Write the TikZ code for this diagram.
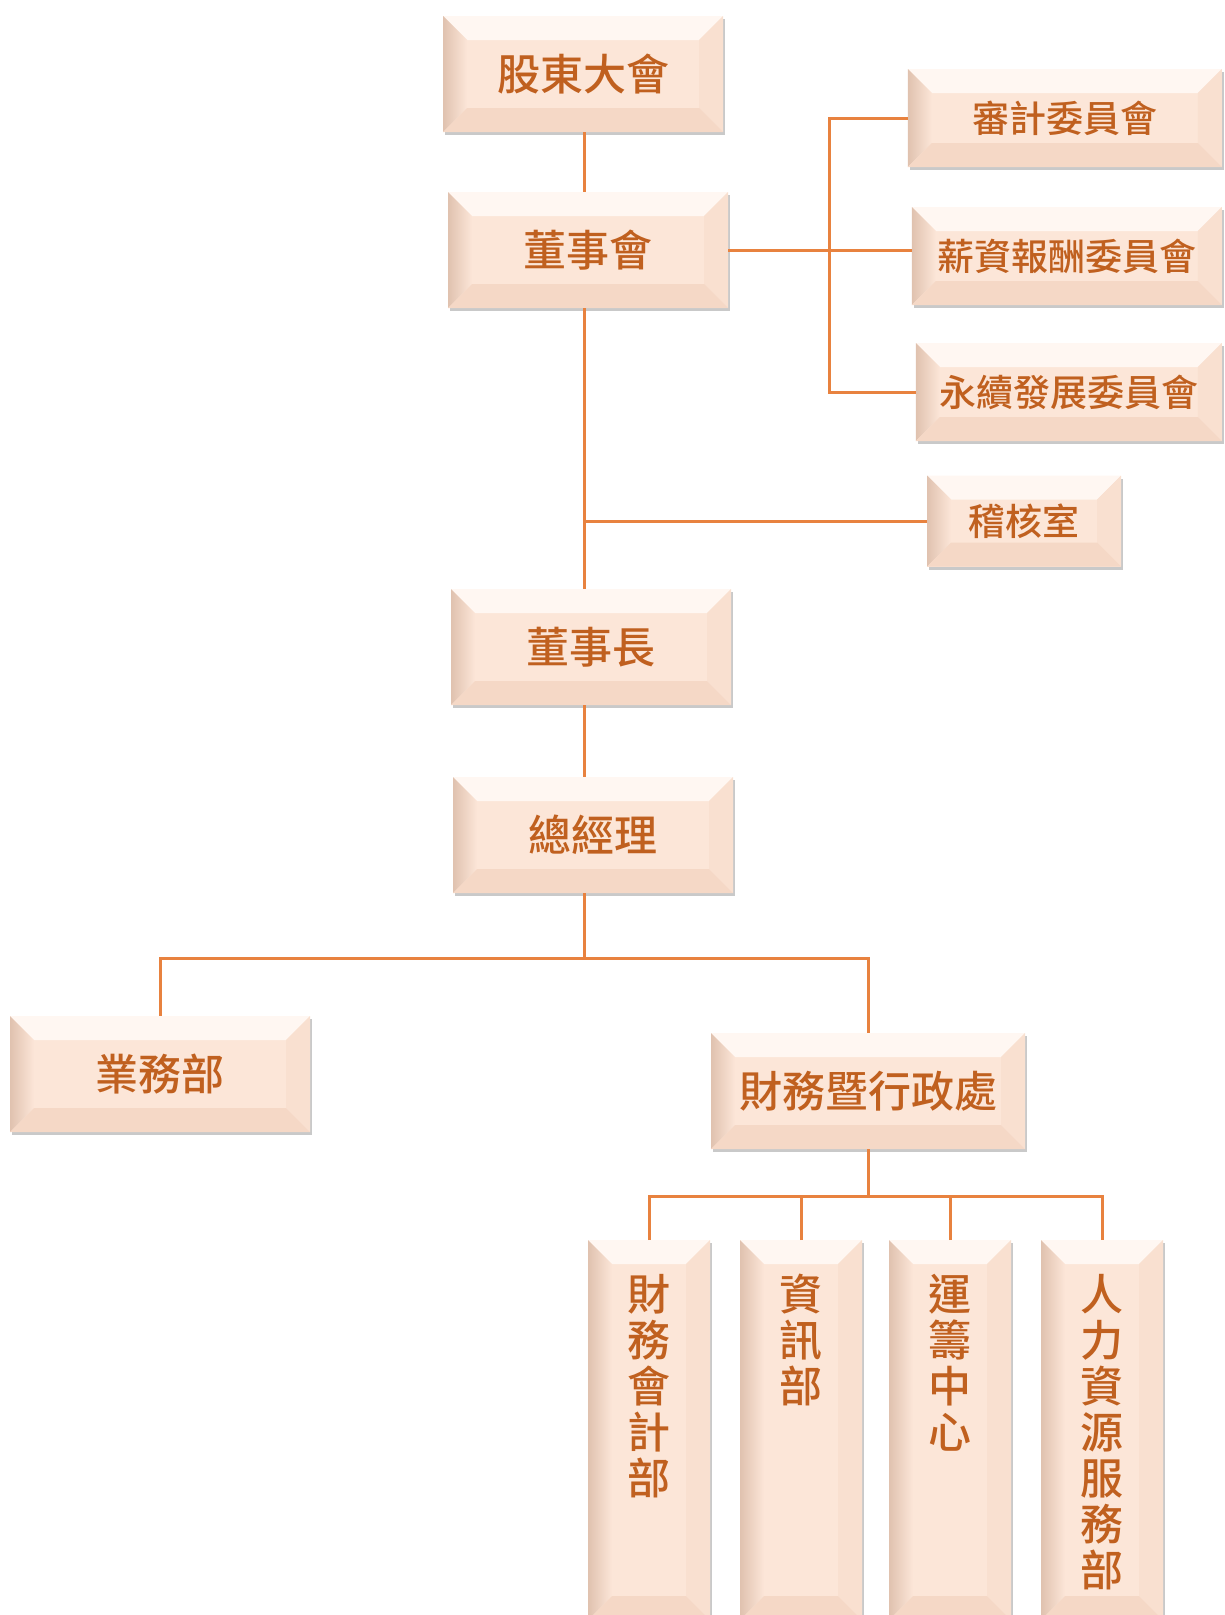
\documentclass[tikz,border=0pt]{standalone}
\usepackage{fontspec}
\newfontfamily\cjk[BoldFont={Noto Sans CJK TC Medium}]{Noto Sans CJK TC}
\usetikzlibrary{shadows}
\definecolor{boxface}{HTML}{FCE6D8}
\definecolor{boxtext}{HTML}{C0601F}
\definecolor{linkline}{HTML}{E8823F}
\definecolor{bevtop}{HTML}{FFF7F2}
\definecolor{bevleft}{HTML}{E0C2AF}
\definecolor{bevright}{HTML}{F9E0D0}
\definecolor{bevbottom}{HTML}{F5D8C6}
\begin{document}
\begin{tikzpicture}[x=1pt,y=-1pt]
\tikzstyle{bevel} = [rectangle, fill=boxface, inner sep=0pt, text=boxtext, font=\cjk\bfseries\fontsize{43}{46}\selectfont,
	drop shadow={shadow xshift=2pt, shadow yshift=-3pt, opacity=0.3, fill=black!70},
	path picture={
		\fill[bevtop] (path picture bounding box.north west) -- (path picture bounding box.north east) -- ([xshift=-\bv,yshift=-\bv]path picture bounding box.north east) -- ([xshift=\bv,yshift=-\bv]path picture bounding box.north west) -- cycle;
		\shade[left color=bevleft, right color=boxface] (path picture bounding box.north west) -- ([xshift=\bv,yshift=-\bv]path picture bounding box.north west) -- ([xshift=\bv,yshift=\bv]path picture bounding box.south west) -- (path picture bounding box.south west) -- cycle;
		\fill[bevright] (path picture bounding box.north east) -- ([xshift=-\bv,yshift=-\bv]path picture bounding box.north east) -- ([xshift=-\bv,yshift=\bv]path picture bounding box.south east) -- (path picture bounding box.south east) -- cycle;
		\fill[bevbottom] (path picture bounding box.south west) -- ([xshift=\bv,yshift=\bv]path picture bounding box.south west) -- ([xshift=-\bv,yshift=\bv]path picture bounding box.south east) -- (path picture bounding box.south east) -- cycle;
	}]
\tikzstyle{unit} = [bevel, minimum width=280pt, minimum height=116pt]
\tikzstyle{committee} = [bevel, font=\cjk\bfseries\fontsize{37}{40}\selectfont, minimum height=98pt, anchor=east]
\tikzstyle{dept} = [bevel, minimum width=122pt, minimum height=380pt, anchor=north]
\tikzstyle{edge} = [line width=3pt, draw=linkline]
\def\bv{24pt}

\useasboundingbox (0,0) rectangle (1224,1615);

%board level
\node[unit] (gm) at (583,74) {股東大會};
\node[unit] (bod) at (588,250) {董事會};

\foreach \name/\y/\w/\txt in {audit/118/314/審計委員會, comp/256/310/薪資報酬委員會, esg/392/306/永續發展委員會}
	\node[committee, minimum width=\w] (\name) at (1222,\y) {\txt};

\node[bevel, minimum width=194pt, minimum height=91pt, font=\cjk\bfseries\fontsize{37}{40}\selectfont] (internal) at (1024,521) {稽核室};

%management
\node[unit] (chair) at (591,647) {董事長};
\node[unit] (ceo) at (593,835) {總經理};

\node[unit, minimum width=300pt] (sales) at (160,1074) {業務部};
\node[unit, minimum width=314pt] (fin) at (868,1091) {財務暨行政處};

%departments under fin
\foreach \name/\x/\txt in {acct/649/財\\務\\會\\計\\部, it/801/資\\訊\\部, logi/950/運\\籌\\中\\心, hr/1102/人\\力\\資\\源\\服\\務\\部}
	\node[dept] (\name) at (\x,1240) {\parbox[t][372pt][t]{60pt}{\centering\vspace*{30pt}\txt}};

%connectors
\coordinate (trunk) at (584,0);
\coordinate (bus) at (829,0);
\draw[edge] (gm.south -| trunk) -- (bod.north -| trunk);
\draw[edge] (bod.south -| trunk) -- (chair.north -| trunk);
\draw[edge] (internal.west) -- (internal.west -| trunk);
\draw[edge] (bod.east) -- (bod.east -| comp.west);
\draw[edge] (audit.west) -| (bus |- esg.west) -- (esg.west);
\draw[edge] (chair.south -| trunk) -- (ceo.north -| trunk);

\coordinate (split) at (584,958);
\draw[edge] (ceo.south -| trunk) -- (split);
\draw[edge] (sales.north) |- (split) -| (fin.north);

\draw[edge] (fin.south) -- ++(0,47) coordinate (hub);
\draw[edge] (acct.north) |- (hub) -| (hr.north);
\foreach \name in {it, logi}
	\draw[edge] (\name.north) -- (\name.north |- hub);
\end{tikzpicture}
\end{document}
